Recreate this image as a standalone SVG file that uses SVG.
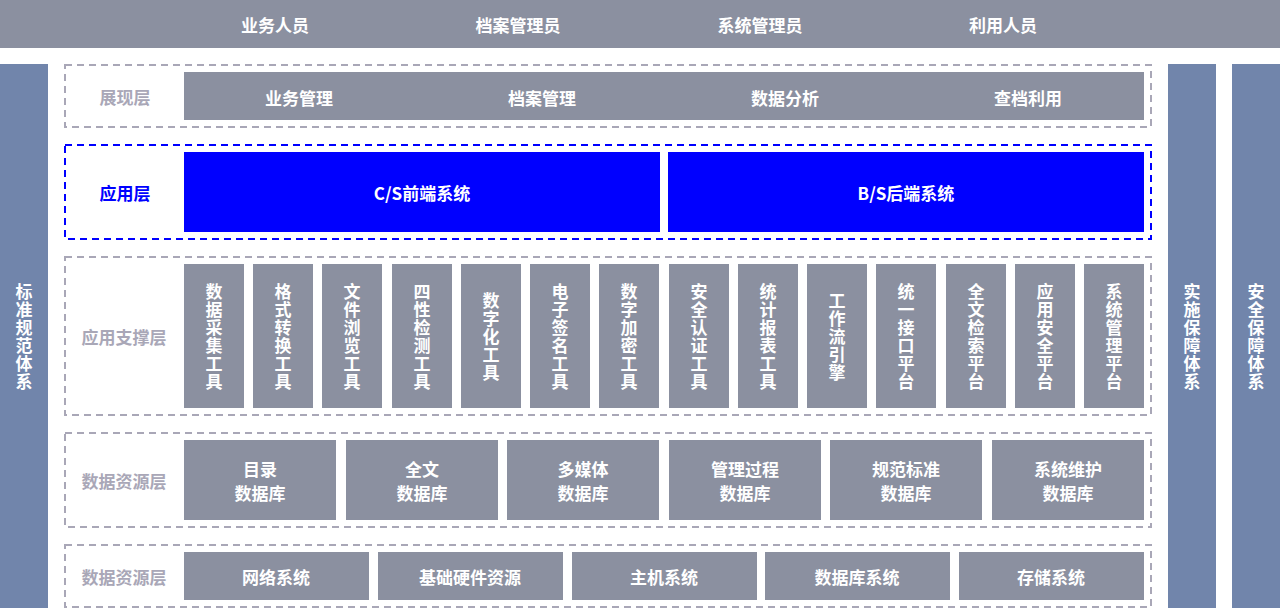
<svg xmlns="http://www.w3.org/2000/svg" width="1280" height="608" viewBox="0 0 1280 608">
<style>
text{font-family:"Noto Sans CJK SC","Liberation Sans",sans-serif;font-weight:bold;font-size:17px;text-anchor:middle;dominant-baseline:central}
.v{writing-mode:vertical-rl;letter-spacing:1px}
.bar{fill:#8b90a0}
.side{fill:#7185ab}
.box{fill:#8b90a0}
.blue{fill:#0000ff}
.w{fill:#ffffff}
.lbl{fill:#a9a7b7}
.lblb{fill:#0000ff}
.dash{fill:none;stroke:#a9a7b7;stroke-width:2;stroke-dasharray:7 5}
.dashb{fill:none;stroke:#0000ff;stroke-width:2;stroke-dasharray:7 5}
</style>
<rect width="1280" height="608" fill="#ffffff"/>
<g id="users">
<rect class="bar" x="0" y="0" width="1280" height="48"/>
<text class="w" x="275" y="24">业务人员</text>
<text class="w" x="518" y="24">档案管理员</text>
<text class="w" x="760" y="24">系统管理员</text>
<text class="w" x="1003" y="24">利用人员</text>
</g>
<g id="std">
<rect class="side" x="0" y="64" width="48" height="544"/>
<text class="w v" x="24" y="337">标准规范体系</text>
</g>
<g id="impl">
<rect class="side" x="1168" y="64" width="48" height="544"/>
<text class="w v" x="1192" y="337">实施保障体系</text>
</g>
<g id="sec">
<rect class="side" x="1232" y="64" width="48" height="544"/>
<text class="w v" x="1256" y="337">安全保障体系</text>
</g>
<g id="display">
<rect class="dash" x="65" y="65" width="1086" height="62"/>
<text class="lbl" x="125" y="96">展现层</text>
<rect class="box" x="184" y="72" width="960" height="48"/>
<text class="w" x="299" y="97">业务管理</text>
<text class="w" x="542" y="97">档案管理</text>
<text class="w" x="785" y="97">数据分析</text>
<text class="w" x="1028" y="97">查档利用</text>
</g>
<g id="app">
<rect class="dashb" x="65" y="145" width="1086" height="94"/>
<text class="lblb" x="125" y="192">应用层</text>
<rect class="blue" x="184" y="152" width="476" height="80"/>
<text class="w" x="422" y="192">C/S前端系统</text>
<rect class="blue" x="668" y="152" width="476" height="80"/>
<text class="w" x="906" y="192">B/S后端系统</text>
</g>
<g id="support">
<rect class="dash" x="65" y="257" width="1086" height="158"/>
<text class="lbl" x="124" y="336">应用支撑层</text>
<rect class="box" x="184" y="264" width="60" height="144"/>
<text class="w v" x="214" y="337">数据采集工具</text>
<rect class="box" x="253" y="264" width="60" height="144"/>
<text class="w v" x="283" y="337">格式转换工具</text>
<rect class="box" x="322" y="264" width="60" height="144"/>
<text class="w v" x="352" y="337">文件浏览工具</text>
<rect class="box" x="392" y="264" width="60" height="144"/>
<text class="w v" x="422" y="337">四性检测工具</text>
<rect class="box" x="461" y="264" width="60" height="144"/>
<text class="w v" x="491" y="337">数字化工具</text>
<rect class="box" x="530" y="264" width="60" height="144"/>
<text class="w v" x="560" y="337">电子签名工具</text>
<rect class="box" x="599" y="264" width="60" height="144"/>
<text class="w v" x="629" y="337">数字加密工具</text>
<rect class="box" x="669" y="264" width="60" height="144"/>
<text class="w v" x="699" y="337">安全认证工具</text>
<rect class="box" x="738" y="264" width="60" height="144"/>
<text class="w v" x="768" y="337">统计报表工具</text>
<rect class="box" x="807" y="264" width="60" height="144"/>
<text class="w v" x="837" y="337">工作流引擎</text>
<rect class="box" x="876" y="264" width="60" height="144"/>
<text class="w v" x="906" y="337">统一接口平台</text>
<rect class="box" x="946" y="264" width="60" height="144"/>
<text class="w v" x="976" y="337">全文检索平台</text>
<rect class="box" x="1015" y="264" width="60" height="144"/>
<text class="w v" x="1045" y="337">应用安全平台</text>
<rect class="box" x="1084" y="264" width="60" height="144"/>
<text class="w v" x="1114" y="337">系统管理平台</text>
</g>
<g id="data">
<rect class="dash" x="65" y="433" width="1086" height="94"/>
<text class="lbl" x="124" y="480">数据资源层</text>
<rect class="box" x="184" y="440" width="152" height="80"/>
<text class="w"><tspan x="260" y="468">目录</tspan><tspan x="260" y="492">数据库</tspan></text>
<rect class="box" x="346" y="440" width="152" height="80"/>
<text class="w"><tspan x="422" y="468">全文</tspan><tspan x="422" y="492">数据库</tspan></text>
<rect class="box" x="507" y="440" width="152" height="80"/>
<text class="w"><tspan x="583" y="468">多媒体</tspan><tspan x="583" y="492">数据库</tspan></text>
<rect class="box" x="669" y="440" width="152" height="80"/>
<text class="w"><tspan x="745" y="468">管理过程</tspan><tspan x="745" y="492">数据库</tspan></text>
<rect class="box" x="830" y="440" width="152" height="80"/>
<text class="w"><tspan x="906" y="468">规范标准</tspan><tspan x="906" y="492">数据库</tspan></text>
<rect class="box" x="992" y="440" width="152" height="80"/>
<text class="w"><tspan x="1068" y="468">系统维护</tspan><tspan x="1068" y="492">数据库</tspan></text>
</g>
<g id="infra">
<rect class="dash" x="65" y="545" width="1086" height="62"/>
<text class="lbl" x="124" y="576">数据资源层</text>
<rect class="box" x="184" y="552" width="185" height="48"/>
<text class="w" x="276" y="576">网络系统</text>
<rect class="box" x="378" y="552" width="185" height="48"/>
<text class="w" x="470" y="576">基础硬件资源</text>
<rect class="box" x="572" y="552" width="185" height="48"/>
<text class="w" x="664" y="576">主机系统</text>
<rect class="box" x="765" y="552" width="185" height="48"/>
<text class="w" x="857" y="576">数据库系统</text>
<rect class="box" x="959" y="552" width="185" height="48"/>
<text class="w" x="1051" y="576">存储系统</text>
</g>
<g id="connectors"></g>
</svg>
